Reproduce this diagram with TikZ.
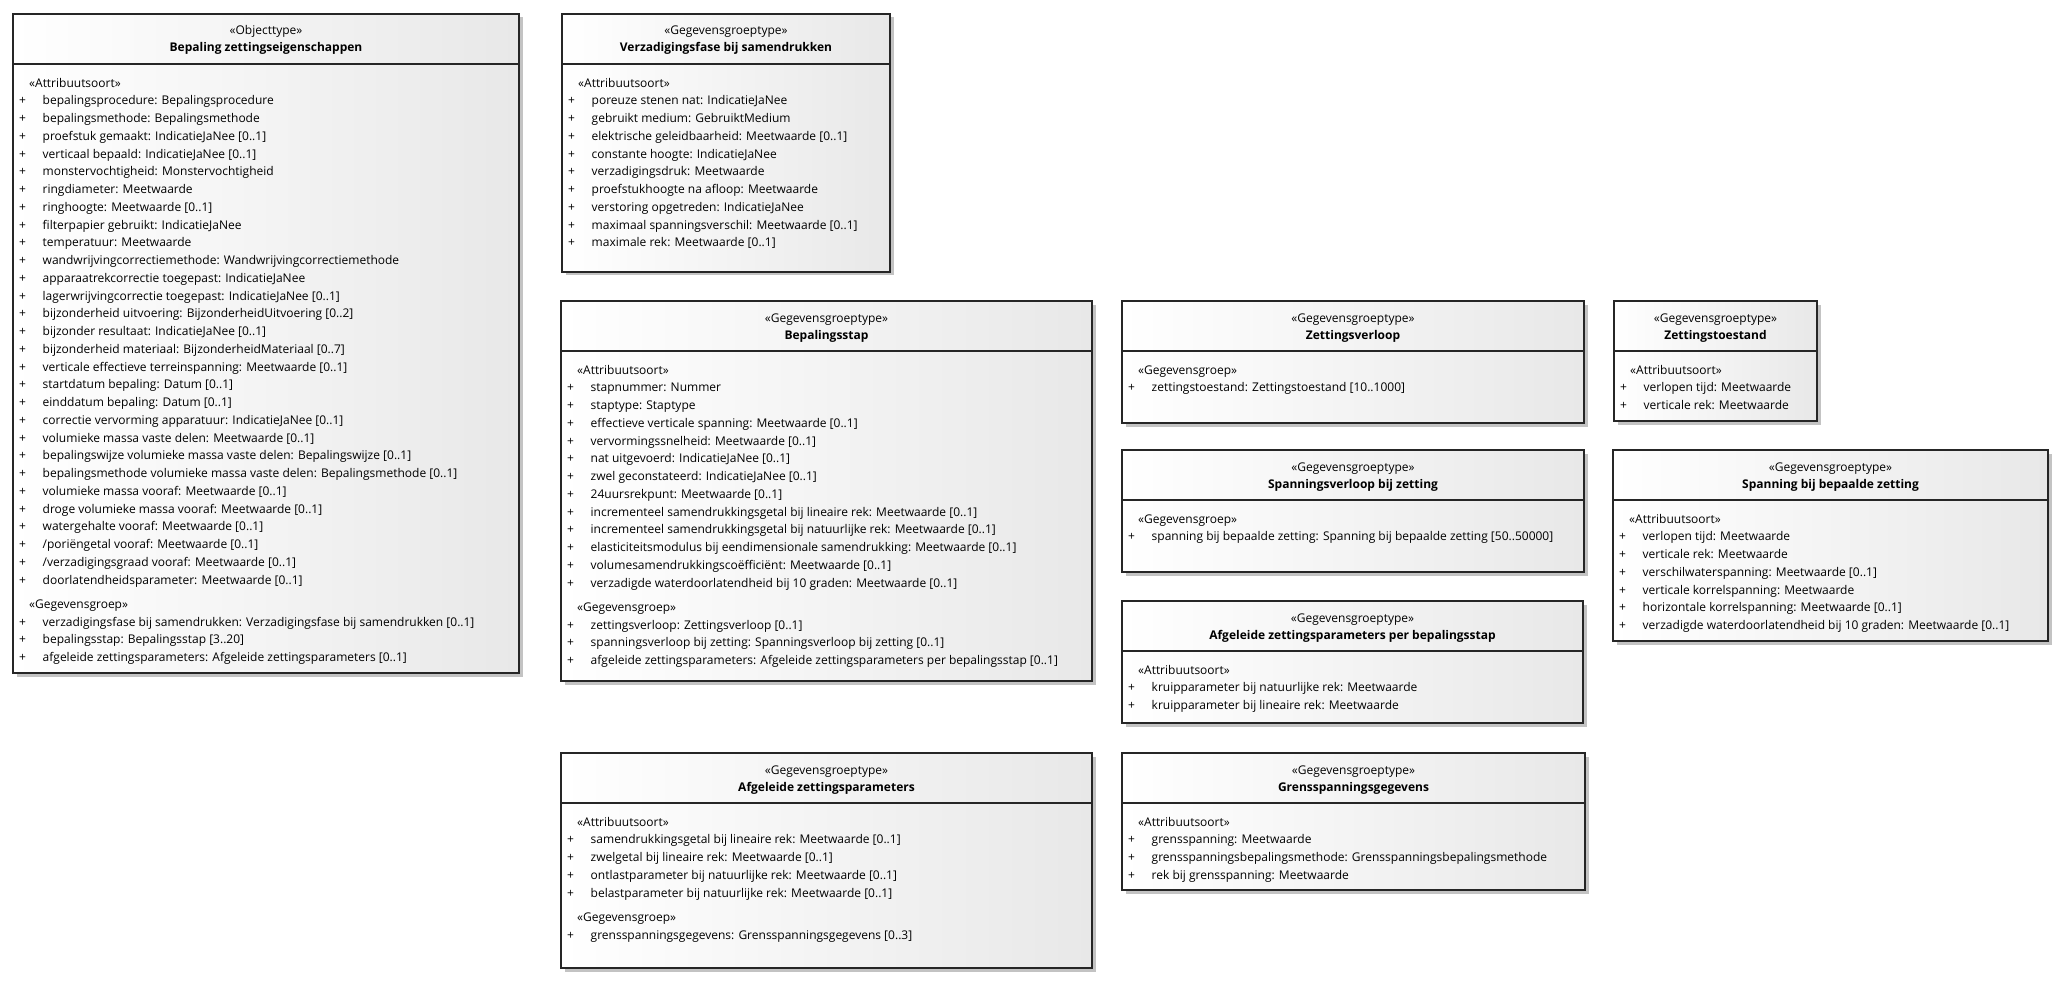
\documentclass[tikz,border=0pt]{standalone}
\usepackage{fontspec}
\setmainfont{Open Sans}
\usetikzlibrary{fit,shadows}
\definecolor{boxgray}{RGB}{232,232,232}
\definecolor{shadowgray}{RGB}{195,195,195}
\newcommand{\attr}[1]{\makebox[23.5pt][l]{+}#1}
\newcommand{\ster}[1]{\hspace*{10pt}«#1»}
\newcommand{\umlbox}[8]{%
  \node[umlframe, fit={(#2,#3) (#4,#5)}] (#1) {};
  \draw[umlline] (#2,#3+50) -- (#4,#3+50);
  \node[umlstereo] (#1-st) at ({(#2+#4)/2},#3+21) {«#6»};
  \node[umltitle] (#1-ti) at ({(#2+#4)/2},#3+38) {#7};
  \node[umlbody] (#1-bd) at (#2+6,#3+63) {\rule{0pt}{10pt}#8};
}
\begin{document}
\begin{tikzpicture}[x=1pt,y=-1pt,
  umlframe/.style={draw=black!85, line width=1.3pt, inner sep=0pt, outer sep=0pt,
    left color=white, right color=boxgray,
    drop shadow={shadow xshift=3.5pt, shadow yshift=-3.5pt, fill=shadowgray, opacity=1}},
  umlline/.style={draw=black!85, line width=1.3pt},
  umlstereo/.style={anchor=base, inner sep=0pt, font=\fontsize{12}{14}\selectfont},
  umltitle/.style={anchor=base, inner sep=0pt, font=\bfseries\fontsize{12}{14}\selectfont},
  umlbody/.style={anchor=north west, align=left, inner sep=0pt, font=\fontsize{12}{17.75}\selectfont}]
\fill[white] (0,0) rectangle (2066,984);
\useasboundingbox (0,0) rectangle (2066,984);

\umlbox{bze}{13}{14}{519}{673}{Objecttype}{Bepaling zettingseigenschappen}{%
\ster{Attribuutsoort}\\
\attr{bepalingsprocedure: Bepalingsprocedure}\\
\attr{bepalingsmethode: Bepalingsmethode}\\
\attr{proefstuk gemaakt: IndicatieJaNee [0..1]}\\
\attr{verticaal bepaald: IndicatieJaNee [0..1]}\\
\attr{monstervochtigheid: Monstervochtigheid}\\
\attr{ringdiameter: Meetwaarde}\\
\attr{ringhoogte: Meetwaarde [0..1]}\\
\attr{filterpapier gebruikt: IndicatieJaNee}\\
\attr{temperatuur: Meetwaarde}\\
\attr{wandwrijvingcorrectiemethode: Wandwrijvingcorrectiemethode}\\
\attr{apparaatrekcorrectie toegepast: IndicatieJaNee}\\
\attr{lagerwrijvingcorrectie toegepast: IndicatieJaNee [0..1]}\\
\attr{bijzonderheid uitvoering: BijzonderheidUitvoering [0..2]}\\
\attr{bijzonder resultaat: IndicatieJaNee [0..1]}\\
\attr{bijzonderheid materiaal: BijzonderheidMateriaal [0..7]}\\
\attr{verticale effectieve terreinspanning: Meetwaarde [0..1]}\\
\attr{startdatum bepaling: Datum [0..1]}\\
\attr{einddatum bepaling: Datum [0..1]}\\
\attr{correctie vervorming apparatuur: IndicatieJaNee [0..1]}\\
\attr{volumieke massa vaste delen: Meetwaarde [0..1]}\\
\attr{bepalingswijze volumieke massa vaste delen: Bepalingswijze [0..1]}\\
\attr{bepalingsmethode volumieke massa vaste delen: Bepalingsmethode [0..1]}\\
\attr{volumieke massa vooraf: Meetwaarde [0..1]}\\
\attr{droge volumieke massa vooraf: Meetwaarde [0..1]}\\
\attr{watergehalte vooraf: Meetwaarde [0..1]}\\
\attr{/poriëngetal vooraf: Meetwaarde [0..1]}\\
\attr{/verzadigingsgraad vooraf: Meetwaarde [0..1]}\\
\attr{doorlatendheidsparameter: Meetwaarde [0..1]}\\[6.3pt]
\ster{Gegevensgroep}\\
\attr{verzadigingsfase bij samendrukken: Verzadigingsfase bij samendrukken [0..1]}\\
\attr{bepalingsstap: Bepalingsstap [3..20]}\\
\attr{afgeleide zettingsparameters: Afgeleide zettingsparameters [0..1]}}

\umlbox{vbs}{562}{14}{890}{272}{Gegevensgroeptype}{Verzadigingsfase bij samendrukken}{%
\ster{Attribuutsoort}\\
\attr{poreuze stenen nat: IndicatieJaNee}\\
\attr{gebruikt medium: GebruiktMedium}\\
\attr{elektrische geleidbaarheid: Meetwaarde [0..1]}\\
\attr{constante hoogte: IndicatieJaNee}\\
\attr{verzadigingsdruk: Meetwaarde}\\
\attr{proefstukhoogte na afloop: Meetwaarde}\\
\attr{verstoring opgetreden: IndicatieJaNee}\\
\attr{maximaal spanningsverschil: Meetwaarde [0..1]}\\
\attr{maximale rek: Meetwaarde [0..1]}}

\umlbox{bst}{561}{301}{1092}{681}{Gegevensgroeptype}{Bepalingsstap}{%
\ster{Attribuutsoort}\\
\attr{stapnummer: Nummer}\\
\attr{staptype: Staptype}\\
\attr{effectieve verticale spanning: Meetwaarde [0..1]}\\
\attr{vervormingssnelheid: Meetwaarde [0..1]}\\
\attr{nat uitgevoerd: IndicatieJaNee [0..1]}\\
\attr{zwel geconstateerd: IndicatieJaNee [0..1]}\\
\attr{24uursrekpunt: Meetwaarde [0..1]}\\
\attr{incrementeel samendrukkingsgetal bij lineaire rek: Meetwaarde [0..1]}\\
\attr{incrementeel samendrukkingsgetal bij natuurlijke rek: Meetwaarde [0..1]}\\
\attr{elasticiteitsmodulus bij eendimensionale samendrukking: Meetwaarde [0..1]}\\
\attr{volumesamendrukkingscoëfficiënt: Meetwaarde [0..1]}\\
\attr{verzadigde waterdoorlatendheid bij 10 graden: Meetwaarde [0..1]}\\[6.3pt]
\ster{Gegevensgroep}\\
\attr{zettingsverloop: Zettingsverloop [0..1]}\\
\attr{spanningsverloop bij zetting: Spanningsverloop bij zetting [0..1]}\\
\attr{afgeleide zettingsparameters: Afgeleide zettingsparameters per bepalingsstap [0..1]}}

\umlbox{zvl}{1122}{301}{1584}{423}{Gegevensgroeptype}{Zettingsverloop}{%
\ster{Gegevensgroep}\\
\attr{zettingstoestand: Zettingstoestand [10..1000]}}

\umlbox{zts}{1614}{301}{1817}{421}{Gegevensgroeptype}{Zettingstoestand}{%
\ster{Attribuutsoort}\\
\attr{verlopen tijd: Meetwaarde}\\
\attr{verticale rek: Meetwaarde}}

\umlbox{svz}{1122}{450}{1584}{572}{Gegevensgroeptype}{Spanningsverloop bij zetting}{%
\ster{Gegevensgroep}\\
\attr{spanning bij bepaalde zetting: Spanning bij bepaalde zetting [50..50000]}}

\umlbox{sbz}{1613}{450}{2048}{641}{Gegevensgroeptype}{Spanning bij bepaalde zetting}{%
\ster{Attribuutsoort}\\
\attr{verlopen tijd: Meetwaarde}\\
\attr{verticale rek: Meetwaarde}\\
\attr{verschilwaterspanning: Meetwaarde [0..1]}\\
\attr{verticale korrelspanning: Meetwaarde}\\
\attr{horizontale korrelspanning: Meetwaarde [0..1]}\\
\attr{verzadigde waterdoorlatendheid bij 10 graden: Meetwaarde [0..1]}}

\umlbox{azb}{1122}{601}{1583}{723}{Gegevensgroeptype}{Afgeleide zettingsparameters per bepalingsstap}{%
\ster{Attribuutsoort}\\
\attr{kruipparameter bij natuurlijke rek: Meetwaarde}\\
\attr{kruipparameter bij lineaire rek: Meetwaarde}}

\umlbox{azp}{561}{753}{1092}{968}{Gegevensgroeptype}{Afgeleide zettingsparameters}{%
\ster{Attribuutsoort}\\
\attr{samendrukkingsgetal bij lineaire rek: Meetwaarde [0..1]}\\
\attr{zwelgetal bij lineaire rek: Meetwaarde [0..1]}\\
\attr{ontlastparameter bij natuurlijke rek: Meetwaarde [0..1]}\\
\attr{belastparameter bij natuurlijke rek: Meetwaarde [0..1]}\\[6.3pt]
\ster{Gegevensgroep}\\
\attr{grensspanningsgegevens: Grensspanningsgegevens [0..3]}}

\umlbox{gsg}{1122}{753}{1585}{890}{Gegevensgroeptype}{Grensspanningsgegevens}{%
\ster{Attribuutsoort}\\
\attr{grensspanning: Meetwaarde}\\
\attr{grensspanningsbepalingsmethode: Grensspanningsbepalingsmethode}\\
\attr{rek bij grensspanning: Meetwaarde}}
\end{tikzpicture}
\end{document}
